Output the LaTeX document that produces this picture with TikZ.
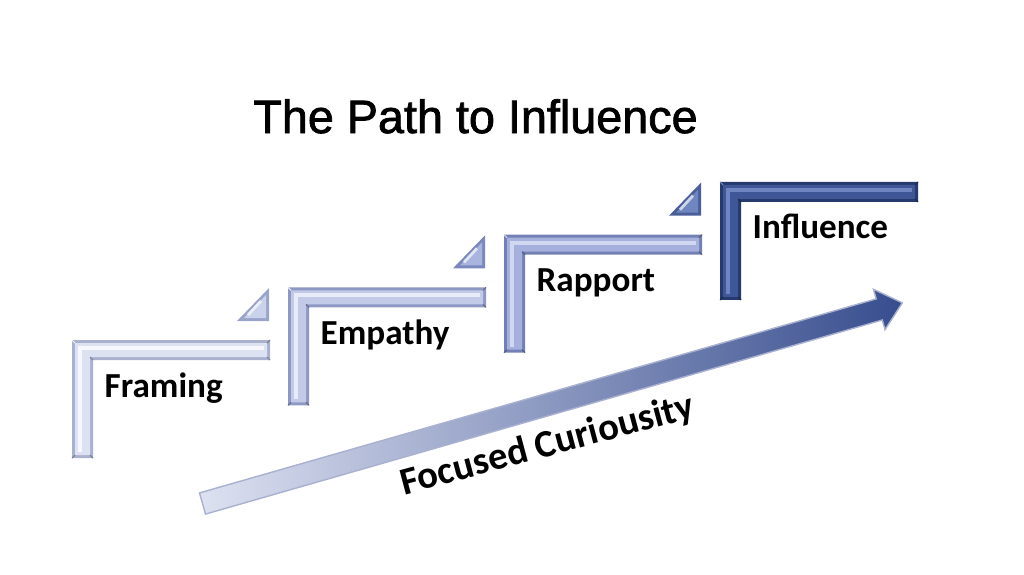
\documentclass[tikz,border=0pt]{standalone}
\usepackage{fontspec}
\setmainfont{Liberation Sans}
\newfontfamily\titlefont{Liberation Sans}[FakeBold=1.6]
\newfontfamily\labelfont{Carlito}
\usepackage{xcolor}
\usetikzlibrary{positioning}

\definecolor{mainA}{HTML}{DDE2F2}
\definecolor{edgeA}{HTML}{A9B1CF}
\definecolor{highA}{HTML}{F6F8FD}
\definecolor{mainB}{HTML}{C3CAE7}
\definecolor{edgeB}{HTML}{8E98C4}
\definecolor{highB}{HTML}{E8ECF8}
\definecolor{mainC}{HTML}{A5B0DC}
\definecolor{edgeC}{HTML}{7380B5}
\definecolor{highC}{HTML}{D0D7F0}
\definecolor{mainD}{HTML}{3F5797}
\definecolor{edgeD}{HTML}{263A6E}
\definecolor{highD}{HTML}{6F85C2}
\definecolor{triA}{HTML}{CBD2EB}
\definecolor{triB}{HTML}{A9B5DF}
\definecolor{triC}{HTML}{7086C0}
\definecolor{triedgeA}{HTML}{9AA4CB}
\definecolor{triedgeB}{HTML}{7B88BE}
\definecolor{triedgeC}{HTML}{4A5E9A}
\definecolor{arrowL}{HTML}{DDE1F1}
\definecolor{arrowR}{HTML}{374D8E}

\begin{document}
\begin{tikzpicture}[x=0.1mm, y=-0.1mm]

\tikzset{
    titletext/.style={font=\titlefont\fontsize{13.3}{16}\selectfont, anchor=base, inner sep=0pt},
    steplabel/.style={font=\labelfont\bfseries\fontsize{10}{12}\selectfont, anchor=base west, inner sep=0pt},
    pathlabel/.style={font=\labelfont\bfseries\fontsize{11}{13}\selectfont, anchor=base, inner sep=0pt},
    bevel/.style={line width=0.3pt}
}

\useasboundingbox (0,0) rectangle (1024,574);

%====================================================
% TITLE
%====================================================
\node[titletext] (title) at (475.5,133) {The Path to Influence};

%====================================================
% STEPS
%====================================================
\foreach \k/\name/\txt/\cmain/\cedge/\chigh/\ctri/\ctriedge in {
    0/framing/Framing/mainA/edgeA/highA/triA/triedgeA,
    1/empathy/Empathy/mainB/edgeB/highB/triB/triedgeB,
    2/rapport/Rapport/mainC/edgeC/highC/triC/triedgeC,
    3/influence/Influence/mainD/edgeD/highD/triC/triedgeC
}{
    \pgfmathsetmacro{\xo}{72+216*\k}
    \pgfmathsetmacro{\yo}{340-52.67*\k}

    % outer L
    \fill[\cedge] (\xo,\yo) -- (\xo+198,\yo) -- (\xo+198,\yo+20) -- (\xo+21,\yo+20)
        -- (\xo+21,\yo+118) -- (\xo,\yo+118) -- cycle;
    % face
    \fill[\cmain] (\xo+3,\yo+3) -- (\xo+195,\yo+3) -- (\xo+195,\yo+17) -- (\xo+18,\yo+17)
        -- (\xo+18,\yo+115) -- (\xo+3,\yo+115) -- cycle;
    % highlight
    \draw[\chigh, line width=1.1pt] (\xo+8,\yo+112) -- (\xo+8,\yo+8) -- (\xo+192,\yo+8);
    % bevel corners
    \draw[bevel, \chigh] (\xo,\yo) -- (\xo+3,\yo+3);
    \draw[bevel, \cedge!70!black] (\xo+21,\yo+20) -- (\xo+18,\yo+17)
        (\xo,\yo+118) -- (\xo+3,\yo+115) (\xo+21,\yo+118) -- (\xo+18,\yo+115)
        (\xo+198,\yo) -- (\xo+195,\yo+3) (\xo+198,\yo+20) -- (\xo+195,\yo+17);

    % step label
    \node[steplabel] (\name) at (\xo+32,\yo+57) {\txt};

    % corner triangle
    \ifnum\k<3
        \fill[\ctriedge] (\xo+165,\yo-19) -- (\xo+197,\yo-19) -- (\xo+197,\yo-52) -- cycle;
        \fill[\ctri] (\xo+172,\yo-22) -- (\xo+194,\yo-22) -- (\xo+194,\yo-45) -- cycle;
        \draw[\ctri!35!white, line width=0.8pt] (\xo+176,\yo-25) -- (\xo+189,\yo-39);
    \fi
}

%====================================================
% ARROW
%====================================================
\begin{scope}[shift={(202.5,503.5)}, rotate=16]
    \shade[left color=arrowL, right color=arrowR, draw=edgeA, line width=0.4pt]
        (0,-11) -- (704,-11) -- (704,-21) -- (728,0) -- (704,21) -- (704,11) -- (0,11) -- cycle;
\end{scope}

\node[pathlabel, rotate=15] (curiosity) at (550,456) {Focused Curiousity};

\end{tikzpicture}
\end{document}
